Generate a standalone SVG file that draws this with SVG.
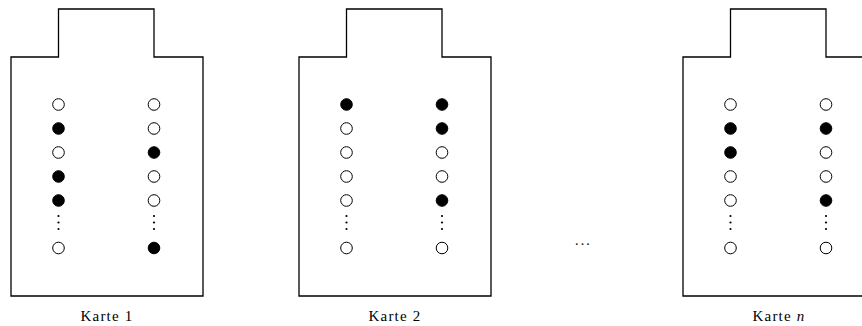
<svg xmlns="http://www.w3.org/2000/svg" width="862" height="326" viewBox="0 0 862 326">
<style>
.card{fill:none;stroke:#000;stroke-width:1.3}
.o{fill:#fff;stroke:#000;stroke-width:1}
.f{fill:#000;stroke:#000;stroke-width:1}
.d{fill:#000}
.lbl{font-family:"Liberation Serif","DejaVu Serif",serif;font-size:15px;letter-spacing:1.2px;fill:#000;text-anchor:middle}
</style>
<defs>
<path id="shape" d="M11,296 V57 H58.5 V9 H154 V57 H203 V296 Z"/>
<g id="vd"><circle cx="0" cy="216" r="1.1"/><circle cx="0" cy="222.5" r="1.1"/><circle cx="0" cy="229" r="1.1"/></g>
</defs>
<g id="card1">
<use href="#shape" class="card"/>
<circle class="o" cx="58.5" cy="104.5" r="5.8"/>
<circle class="f" cx="58.5" cy="128.5" r="5.8"/>
<circle class="o" cx="58.5" cy="152.5" r="5.8"/>
<circle class="f" cx="58.5" cy="176.5" r="5.8"/>
<circle class="f" cx="58.5" cy="200.5" r="5.8"/>
<use href="#vd" class="d" x="58.5"/>
<circle class="o" cx="58.5" cy="248" r="5.8"/>
<circle class="o" cx="154" cy="104.5" r="5.8"/>
<circle class="o" cx="154" cy="128.5" r="5.8"/>
<circle class="f" cx="154" cy="152.5" r="5.8"/>
<circle class="o" cx="154" cy="176.5" r="5.8"/>
<circle class="o" cx="154" cy="200.5" r="5.8"/>
<use href="#vd" class="d" x="154"/>
<circle class="f" cx="154" cy="248" r="5.8"/>
<text class="lbl" x="107" y="321">Karte 1</text>
</g>
<g id="card2" transform="translate(288,0)">
<use href="#shape" class="card"/>
<circle class="f" cx="58.5" cy="104.5" r="5.8"/>
<circle class="o" cx="58.5" cy="128.5" r="5.8"/>
<circle class="o" cx="58.5" cy="152.5" r="5.8"/>
<circle class="o" cx="58.5" cy="176.5" r="5.8"/>
<circle class="o" cx="58.5" cy="200.5" r="5.8"/>
<use href="#vd" class="d" x="58.5"/>
<circle class="o" cx="58.5" cy="248" r="5.8"/>
<circle class="f" cx="154" cy="104.5" r="5.8"/>
<circle class="f" cx="154" cy="128.5" r="5.8"/>
<circle class="o" cx="154" cy="152.5" r="5.8"/>
<circle class="o" cx="154" cy="176.5" r="5.8"/>
<circle class="f" cx="154" cy="200.5" r="5.8"/>
<use href="#vd" class="d" x="154"/>
<circle class="o" cx="154" cy="248" r="5.8"/>
<text class="lbl" x="107" y="321">Karte 2</text>
</g>
<g id="ellipsis">
<text x="583.5" y="245" style="font-family:'Liberation Serif',serif;font-size:14px;text-anchor:middle;letter-spacing:2.2px">...</text>
</g>
<g id="cardn" transform="translate(672,0)">
<use href="#shape" class="card"/>
<circle class="o" cx="58.5" cy="104.5" r="5.8"/>
<circle class="f" cx="58.5" cy="128.5" r="5.8"/>
<circle class="f" cx="58.5" cy="152.5" r="5.8"/>
<circle class="o" cx="58.5" cy="176.5" r="5.8"/>
<circle class="o" cx="58.5" cy="200.5" r="5.8"/>
<use href="#vd" class="d" x="58.5"/>
<circle class="o" cx="58.5" cy="248" r="5.8"/>
<circle class="o" cx="154" cy="104.5" r="5.8"/>
<circle class="f" cx="154" cy="128.5" r="5.8"/>
<circle class="o" cx="154" cy="152.5" r="5.8"/>
<circle class="o" cx="154" cy="176.5" r="5.8"/>
<circle class="f" cx="154" cy="200.5" r="5.8"/>
<use href="#vd" class="d" x="154"/>
<circle class="o" cx="154" cy="248" r="5.8"/>
<text class="lbl" x="107" y="321">Karte <tspan font-style="italic">n</tspan></text>
</g>
</svg>
